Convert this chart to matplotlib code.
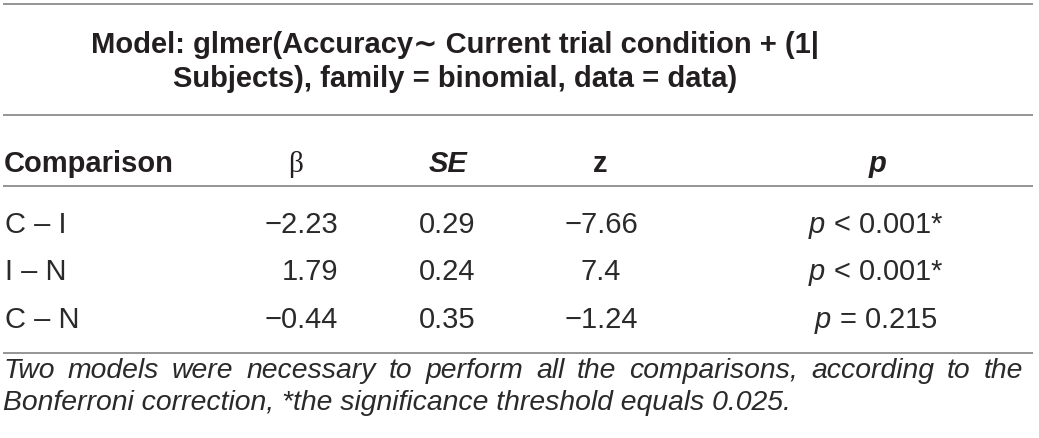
import matplotlib
matplotlib.use("Agg")
import matplotlib.pyplot as plt

# ---- data ----
title_lines = ["Model: glmer(Accuracy\u223c Current trial condition + (1|",
               "Subjects), family = binomial, data = data)"]
comparisons = ["C \u2013 I", "I \u2013 N", "C \u2013 N"]
beta = ["\u22122.23", "1.79", "\u22120.44"]
se = ["0.29", "0.24", "0.35"]
zvals = ["\u22127.66", "7.4", "\u22121.24"]
pvals = ["$p$ < 0.001*", "$p$ < 0.001*", "$p$ = 0.215"]
footnote = ["Two models were necessary to perform all the comparisons, according to the",
            "Bonferroni correction, *the significance threshold equals 0.025."]

W, H = 1039, 439
plt.rcParams['mathtext.fontset'] = 'custom'
plt.rcParams['mathtext.rm'] = 'Liberation Sans'
plt.rcParams['mathtext.it'] = 'Liberation Sans:italic'
plt.rcParams['mathtext.bf'] = 'Liberation Sans:bold'

fig = plt.figure(figsize=(W / 100, H / 100), dpi=100)
ax = fig.add_axes([0, 0, 1, 1])
ax.set_xlim(0, W)
ax.set_ylim(H, 0)
ax.axis('off')

FAM = ['Liberation Sans', 'DejaVu Sans']
TC = '#231f20'
BC = '#2a2a2a'
BODY = 21
TITLE = 21
LC = '#8c8c8c'

# rules
for y in [5, 116, 187, 354]:
    ax.plot([3, 1033], [y, y], color=LC, lw=1.3, solid_capstyle='butt')

# title
for txt, yb in zip(title_lines, [53, 87]):
    ax.text(455, yb, txt, ha='center', va='baseline', fontsize=TITLE,
            fontweight='bold', family=FAM, color=TC)

# header
hy = 172
ax.text(4, hy, "Comparison", ha='left', va='baseline', fontsize=BODY,
        fontweight='bold', family=FAM, color=TC)
ax.text(296, hy, "\u03b2", ha='center', va='baseline', fontsize=BODY,
        family=['Liberation Serif', 'DejaVu Serif'], color=TC)
ax.text(448, hy, "SE", ha='center', va='baseline', fontsize=BODY,
        fontweight='bold', style='italic', family=FAM, color=TC)
ax.text(600, hy, "z", ha='center', va='baseline', fontsize=BODY,
        fontweight='bold', family=FAM, color=TC)
ax.text(878, hy, "p", ha='center', va='baseline', fontsize=BODY,
        fontweight='bold', style='italic', family=FAM, color=TC)

# body rows
row_y = [233, 280, 328]
for i, yb in enumerate(row_y):
    ax.text(5, yb, comparisons[i], ha='left', va='baseline', fontsize=BODY, family=FAM, color=BC)
    ax.text(338, yb, beta[i], ha='right', va='baseline', fontsize=BODY, family=FAM, color=BC)
    ax.text(447, yb, se[i], ha='center', va='baseline', fontsize=BODY, family=FAM, color=BC)
    ax.text(601, yb, zvals[i], ha='center', va='baseline', fontsize=BODY, family=FAM, color=BC)
    ax.text(876, yb, pvals[i], ha='center', va='baseline', fontsize=BODY, family=FAM, color=BC)

# footnote: first line justified, second left aligned
fig.canvas.draw()
renderer = fig.canvas.get_renderer()
FN = 20.4
x0, x1 = 3, 1023

def word_texts(line, yb):
    ts = []
    for w in line.split(' '):
        t = ax.text(0, yb, w, ha='left', va='baseline', fontsize=FN,
                    style='italic', family=FAM, color=BC)
        ts.append(t)
    return ts

def px_to_data(wpx):
    return wpx * W / fig.bbox.width

ts = word_texts(footnote[0], 378)
widths = [px_to_data(t.get_window_extent(renderer).width) for t in ts]
gap = (x1 - x0 - sum(widths)) / (len(ts) - 1)
x = x0
for t, w in zip(ts, widths):
    t.set_x(x)
    x += w + gap

ax.text(x0, 410, footnote[1], ha='left', va='baseline', fontsize=FN,
        style='italic', family=FAM, color=BC)

fig.savefig('out.png', dpi=100)
